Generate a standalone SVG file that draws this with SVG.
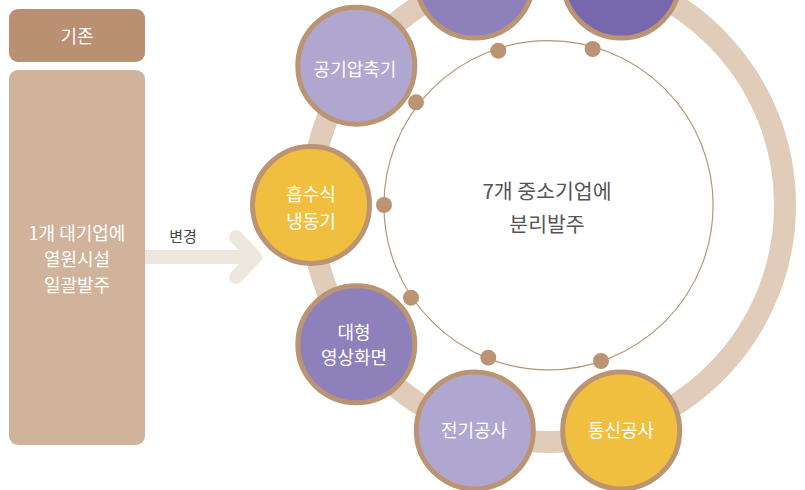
<svg xmlns="http://www.w3.org/2000/svg" width="805" height="490" viewBox="0 0 805 490">
  <style>
    text { font-family: "Noto Sans CJK KR", "Noto Sans", sans-serif; text-anchor: middle; }
    .w { fill: #ffffff; font-size: 18px; }
    .node { stroke: #BB9473; stroke-width: 5; }
    .dot { fill: #BB9473; }
    .light { fill: #B0A7D1; }
    .mid { fill: #8E80BB; }
    .dark { fill: #7768AE; }
    .yel { fill: #F1BF3F; }
    .arrow { fill: none; stroke: #EEE7DD; stroke-width: 14; stroke-linejoin: round; }
  </style>
  <rect width="805" height="490" fill="#ffffff"/>

  <g id="legend-old">
    <rect x="9" y="9" width="136" height="53" rx="9" fill="#B99071"/>
    <text class="w" x="77" y="43">기존</text>
  </g>
  <g id="old-box">
    <rect x="9" y="70" width="136" height="375" rx="9" fill="#D1B39C"/>
    <text class="w" x="77" y="240">1개 대기업에</text>
    <text class="w" x="77" y="266">열원시설</text>
    <text class="w" x="77" y="292">일괄발주</text>
  </g>

  <g id="connectors">
    <path class="arrow" d="M145,257 H252" stroke-linecap="butt"/>
    <path class="arrow" d="M236,237 L255,257 L236,277" stroke-linecap="round"/>
    <text x="183" y="242" style="font-size:15px;fill:#444444">변경</text>
    <circle cx="548" cy="205" r="237" fill="none" stroke="#E0CCB9" stroke-width="22"/>
    <circle cx="548.5" cy="205.3" r="164.6" fill="none" stroke="#BB9473" stroke-width="1.2"/>
    <circle class="dot" cx="384" cy="205" r="8"/>
    <circle class="dot" cx="416" cy="102.3" r="8"/>
    <circle class="dot" cx="498.3" cy="50.7" r="8"/>
    <circle class="dot" cx="592.7" cy="49" r="8"/>
    <circle class="dot" cx="411" cy="297.7" r="8"/>
    <circle class="dot" cx="488.3" cy="357.7" r="8"/>
    <circle class="dot" cx="601" cy="361" r="8"/>
  </g>

  <g id="center">
    <text x="547" y="199" style="font-size:20.5px;fill:#555555">7개 중소기업에</text>
    <text x="547" y="232" style="font-size:20.5px;fill:#555555">분리발주</text>
  </g>

  <g id="node-top-left">
    <circle class="node mid" cx="474.8" cy="-20.4" r="58.5"/>
  </g>
  <g id="node-top-right">
    <circle class="node dark" cx="621.2" cy="-20.4" r="58.5"/>
  </g>
  <g id="node-compressor">
    <circle class="node light" cx="356.3" cy="65.7" r="58.5"/>
    <text class="w" x="355" y="76">공기압축기</text>
  </g>
  <g id="node-absorption">
    <circle class="node yel" cx="311" cy="205" r="58.5"/>
    <text class="w" x="311" y="201">흡수식</text>
    <text class="w" x="311" y="228">냉동기</text>
  </g>
  <g id="node-screen">
    <circle class="node mid" cx="356.3" cy="344.3" r="58.5"/>
    <text class="w" x="354" y="339">대형</text>
    <text class="w" x="354" y="364">영상화면</text>
  </g>
  <g id="node-electric">
    <circle class="node light" cx="474.8" cy="430.4" r="58.5"/>
    <text class="w" x="474" y="437">전기공사</text>
  </g>
  <g id="node-telecom">
    <circle class="node yel" cx="621.2" cy="430.4" r="58.5"/>
    <text class="w" x="621" y="437">통신공사</text>
  </g>
</svg>
